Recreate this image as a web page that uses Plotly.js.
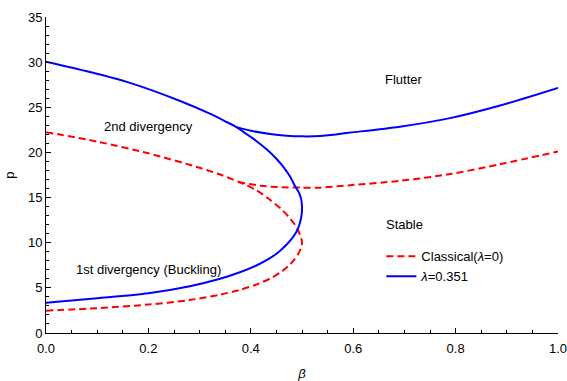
<!DOCTYPE html>
<html>
<head>
<meta charset="utf-8">
<script src="https://cdn.plot.ly/plotly-3.0.1.min.js"></script>
<style>html,body{margin:0;padding:0;background:#fff;}#chart{width:567px;height:381px;}</style>
</head>
<body>
<div id="chart"></div>
<script>
// Classical (lambda = 0): divergence curve (lower branch -> nose -> upper branch)
const redDivBeta = [0, 0.1, 0.2, 0.28, 0.34, 0.38, 0.41, 0.44, 0.46, 0.475, 0.486, 0.494, 0.4985, 0.5, 0.498, 0.493, 0.486, 0.475, 0.46, 0.4375, 0.41, 0.38, 0.34, 0.3, 0.2, 0.1, 0];
const redDivP    = [2.47, 2.75, 3.15, 3.65, 4.25, 4.8, 5.35, 6.1, 6.8, 7.5, 8.2, 8.9, 9.5, 10.0, 10.6, 11.3, 12.0, 12.8, 13.7, 14.75, 15.85, 16.65, 17.55, 18.3, 19.9, 21.2, 22.25];
// Classical: flutter branch
const redFlBeta = [0.375, 0.42, 0.46, 0.5, 0.535, 0.594, 0.691, 0.789, 0.887, 1.0];
const redFlP    = [16.72, 16.3, 16.15, 16.1, 16.1, 16.37, 16.85, 17.6, 18.7, 20.1];
// lambda = 0.351: divergence curve
const blueDivBeta = [0, 0.1, 0.2, 0.281, 0.34, 0.38, 0.41, 0.435, 0.455, 0.47, 0.482, 0.49, 0.496, 0.4995, 0.5, 0.4985, 0.4935, 0.486, 0.477, 0.465, 0.45, 0.432, 0.41, 0.39, 0.372, 0.35, 0.32, 0.262, 0.164, 0.086, 0];
const blueDivP    = [3.35, 3.85, 4.4, 5.18, 6.0, 6.75, 7.45, 8.2, 9.0, 9.8, 10.6, 11.3, 12.2, 13.2, 13.9, 14.8, 15.6, 16.3, 17.3, 18.3, 19.3, 20.3, 21.3, 22.1, 22.8, 23.45, 24.3, 25.7, 27.7, 28.9, 30.05];
// lambda = 0.351: flutter branch
const blueFlBeta = [0.372, 0.40, 0.4375, 0.47, 0.5, 0.535, 0.594, 0.691, 0.789, 0.887, 1.0];
const blueFlP    = [22.8, 22.4, 22.05, 21.85, 21.78, 21.82, 22.2, 22.85, 23.8, 25.2, 27.15];

const xTicks = [0, 0.2, 0.4, 0.6, 0.8, 1.0];
const yTicks = [0, 5, 10, 15, 20, 25, 30, 35];
const regionLabels = ["Flutter", "2nd divergency", "Stable", "1st divergency (Buckling)"];
const regionBeta = [0.70, 0.20, 0.70, 0.20];
const regionP = [28.1, 22.9, 12.0, 7.0];

const FONT = "Liberation Sans, Arial, sans-serif";
const red = "rgb(255,0,0)", blue = "rgb(0,0,255)";
const redLine = {color: red, width: 2, dash: "7px,4px", shape: "spline", smoothing: 0.8};
const blueLine = {color: blue, width: 2, shape: "spline", smoothing: 0.8};

const traces = [
  {x: redDivBeta, y: redDivP, mode: "lines", line: redLine, name: "Classical(<i>λ</i>=0)", legendgroup: "r", showlegend: true},
  {x: redFlBeta, y: redFlP, mode: "lines", line: redLine, legendgroup: "r", showlegend: false},
  {x: blueDivBeta, y: blueDivP, mode: "lines", line: blueLine, name: "<i>λ</i>=0.351", legendgroup: "b", showlegend: true},
  {x: blueFlBeta, y: blueFlP, mode: "lines", line: blueLine, legendgroup: "b", showlegend: false}
];

const annotations = regionLabels.map((t, i) => ({
  x: regionBeta[i], y: regionP[i], xref: "x", yref: "y", text: t, showarrow: false,
  font: {family: FONT, size: 13, color: "#000"}
}));

const axisCommon = {
  showgrid: false, zeroline: false, showline: true, linecolor: "#000", linewidth: 1,
  ticks: "inside", ticklen: 5, tickwidth: 1, tickcolor: "#000",
  tickfont: {family: FONT, size: 13, color: "#000"}
};

const layout = {
  width: 567, height: 381,
  margin: {l: 46, r: 9, t: 17, b: 48},
  paper_bgcolor: "#fff", plot_bgcolor: "#fff",
  font: {family: FONT, size: 13, color: "#000"},
  xaxis: Object.assign({}, axisCommon, {
    range: [0, 1], tickvals: xTicks, ticktext: xTicks.map(v => v.toFixed(1)),
    ticklabeloverflow: "allow", ticklabelstandoff: 3,
    minor: {dtick: 0.05, tick0: 0, ticks: "inside", ticklen: 3, tickcolor: "#000", showgrid: false},
    title: {text: "<i>β</i>", font: {family: FONT, size: 13}, standoff: 15}
  }),
  yaxis: Object.assign({}, axisCommon, {
    range: [0, 35], tickvals: yTicks, ticktext: yTicks.map(String),
    minor: {dtick: 1, tick0: 0, ticks: "inside", ticklen: 3, tickcolor: "#000", showgrid: false},
    title: {text: "p", font: {family: FONT, size: 13}, standoff: 10}
  }),
  legend: {x: 0.655, y: 0.29, xanchor: "left", yanchor: "top", bgcolor: "rgba(0,0,0,0)",
    font: {family: FONT, size: 13, color: "#000"}, tracegroupgap: 0, itemwidth: 30},
  annotations: annotations,
  showlegend: true
};

Plotly.newPlot("chart", traces, layout, {displayModeBar: false, staticPlot: true});
</script>
</body>
</html>
